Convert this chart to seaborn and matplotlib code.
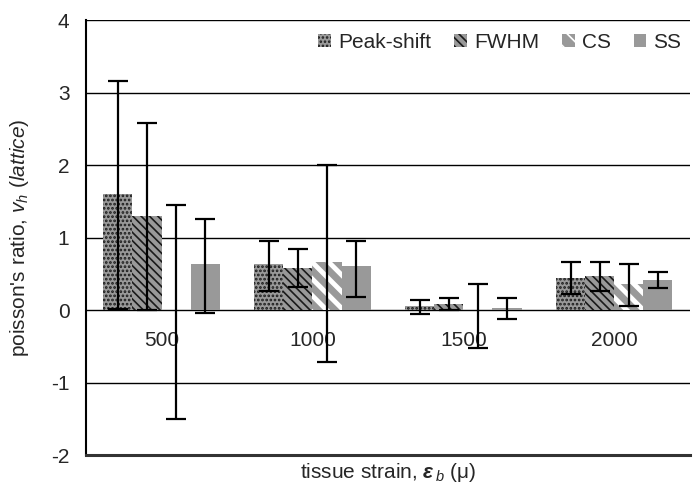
import numpy as np
import pandas as pd
import matplotlib
matplotlib.use("Agg")
import matplotlib.pyplot as plt
import seaborn as sns
from matplotlib.patches import Patch

# ---- data ----
categories = ["500", "1000", "1500", "2000"]
series = ["Peak-shift", "FWHM", "CS", "SS"]

peak_vals = [1.60, 0.63, 0.05, 0.44]
peak_lo = [0.02, 0.27, -0.06, 0.22]
peak_hi = [3.16, 0.96, 0.14, 0.66]

fwhm_vals = [1.30, 0.58, 0.09, 0.47]
fwhm_lo = [0.00, 0.32, 0.00, 0.27]
fwhm_hi = [2.58, 0.85, 0.165, 0.66]

cs_vals = [0.00, 0.66, 0.00, 0.36]
cs_lo = [-1.50, -0.72, -0.52, 0.05]
cs_hi = [1.45, 2.00, 0.36, 0.63]

ss_vals = [0.64, 0.61, 0.03, 0.42]
ss_lo = [-0.04, 0.18, -0.12, 0.30]
ss_hi = [1.26, 0.96, 0.165, 0.52]

yticks = [-2, -1, 0, 1, 2, 3, 4]

vals = [peak_vals, fwhm_vals, cs_vals, ss_vals]
los = [peak_lo, fwhm_lo, cs_lo, ss_lo]
his = [peak_hi, fwhm_hi, cs_hi, ss_hi]

rows = []
for s, v in zip(series, vals):
    for c, y in zip(categories, v):
        rows.append({"cat": c, "series": s, "val": y})
df = pd.DataFrame(rows)

# ---- style ----
sns.set_theme(style="white")
plt.rcParams["font.family"] = ["Liberation Sans", "DejaVu Sans"]
plt.rcParams["axes.unicode_minus"] = False
plt.rcParams["mathtext.fontset"] = "custom"
plt.rcParams["mathtext.rm"] = "Liberation Sans"
plt.rcParams["mathtext.it"] = "Liberation Sans:italic"
plt.rcParams["mathtext.bf"] = "Liberation Sans:bold:italic"
plt.rcParams["hatch.linewidth"] = 1.2

FS = 15
gray = "#999999"
fig = plt.figure(figsize=(6.94, 4.92), dpi=100)
ax = fig.add_axes([0.124, 0.075, 0.870, 0.884])

sns.barplot(data=df, x="cat", y="val", hue="series", order=categories,
            hue_order=series, palette=[gray] * 4, width=0.77,
            errorbar=None, ax=ax, legend=False, saturation=1)

hatches = ["....", "\\\\\\\\", "\\\\", None]
hcolors = ["#1a1a1a", "#1a1a1a", "white", gray]
hlw = [1.3, 1.2, 3.5, 1.0]
bar_conts = list(ax.containers)
for i, cont in enumerate(bar_conts):
    for p in cont.patches:
        p.set_facecolor(gray)
        p.set_edgecolor(hcolors[i])
        p.set_linewidth(0)
        if hatches[i]:
            p.set_hatch(hatches[i])
            if hasattr(p, "set_hatch_linewidth"):
                p.set_hatch_linewidth(hlw[i])
    xs = [p.get_x() + p.get_width() / 2 for p in cont.patches]
    v = np.array(vals[i]); lo = np.array(los[i]); hi = np.array(his[i])
    ax.errorbar(xs, v, yerr=[v - lo, hi - v], fmt="none", ecolor="black",
                elinewidth=1.6, capsize=7, capthick=1.6, zorder=5)

ax.set_ylim(-2, 4)
ax.set_xlim(-0.5, 3.5)
ax.set_yticks(yticks)
ax.set_yticklabels([str(t) for t in yticks], fontsize=FS)
for t in yticks:
    ax.axhline(t, color="black", lw=1.0, zorder=0.5)
ax.set_xticks(range(len(categories)))
ax.set_xticklabels([])
ax.tick_params(axis="x", length=0)
ax.tick_params(axis="y", length=0, pad=12)
for i, c in enumerate(categories):
    ax.text(i, -0.42, c, ha="center", va="center", fontsize=FS)

for s in ["top", "right"]:
    ax.spines[s].set_visible(False)
ax.spines["left"].set_color("black")
ax.spines["left"].set_linewidth(1.5)
ax.spines["bottom"].set_color("#333333")
ax.spines["bottom"].set_linewidth(2.2)

ax.set_ylabel("poisson's ratio, $v_h$ $(lattice)$", fontsize=FS, labelpad=14)
ax.set_xlabel("tissue strain, $\\mathbf{ε}_{\\,\\mathit{b}}$ (μ)", fontsize=FS, labelpad=1)

handles = []
for i, s in enumerate(series):
    h = Patch(facecolor=gray, edgecolor=hcolors[i], linewidth=0,
              hatch=hatches[i], label=s)
    handles.append(h)
ax.legend(handles=handles, loc="upper right", bbox_to_anchor=(1.0, 0.99),
          ncol=4, frameon=False, fontsize=FS, handlelength=0.6,
          handleheight=0.6, handletextpad=0.35, columnspacing=1.1,
          borderaxespad=0.0)

fig.savefig("out.png", dpi=100)
